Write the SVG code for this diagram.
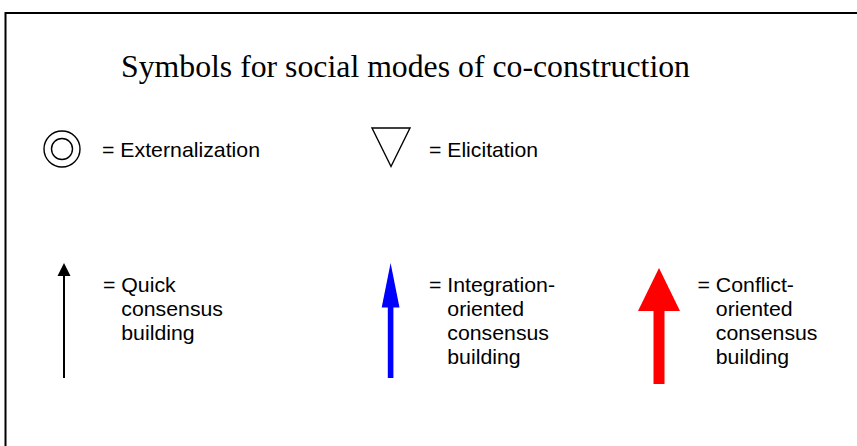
<svg xmlns="http://www.w3.org/2000/svg" width="857" height="446" viewBox="0 0 857 446">
<style>
.lbl{font-family:"Liberation Sans",Arial,sans-serif;font-size:21px;fill:#000}
.title{font-family:"Liberation Serif","Times New Roman",serif;font-size:32px;fill:#000}
.sym{fill:none;stroke:#000;stroke-width:1.4}
</style>
<rect width="857" height="446" fill="#fff"/>
<g id="frame"><path d="M5.5,446 V13 H857" fill="none" stroke="#000" stroke-width="2"/></g>
<g id="title"><text class="title" x="121" y="77" textLength="569" lengthAdjust="spacingAndGlyphs">Symbols for social modes of co-construction</text></g>
<g id="externalization">
<circle class="sym" cx="62" cy="149" r="18"/>
<circle class="sym" cx="62" cy="149" r="10.5"/>
<text class="lbl" x="102" y="157" textLength="158" lengthAdjust="spacingAndGlyphs">= Externalization</text>
</g>
<g id="elicitation">
<polygon class="sym" points="372,128 410,128 391,166.5"/>
<text class="lbl" x="429" y="157" textLength="109" lengthAdjust="spacingAndGlyphs">= Elicitation</text>
</g>
<g id="quick">
<line x1="64" y1="378" x2="64" y2="274" stroke="#000" stroke-width="2"/>
<polygon points="64,263 57.5,276 70.5,276" fill="#000"/>
<text class="lbl" x="103" y="292" textLength="72.7" lengthAdjust="spacingAndGlyphs">= Quick</text>
<text class="lbl" x="121.3" y="316" textLength="101.7" lengthAdjust="spacingAndGlyphs">consensus</text>
<text class="lbl" x="121.3" y="340" textLength="73.3" lengthAdjust="spacingAndGlyphs">building</text>
</g>
<g id="integration">
<rect x="387.8" y="305" width="5.6" height="73" fill="#0000ff"/>
<polygon points="390.6,263 381.7,307.5 399.5,307.5" fill="#0000ff"/>
<text class="lbl" x="429" y="292" textLength="126" lengthAdjust="spacingAndGlyphs">= Integration-</text>
<text class="lbl" x="447.3" y="316" textLength="76.9" lengthAdjust="spacingAndGlyphs">oriented</text>
<text class="lbl" x="447.3" y="340" textLength="101.7" lengthAdjust="spacingAndGlyphs">consensus</text>
<text class="lbl" x="447.3" y="364" textLength="73.3" lengthAdjust="spacingAndGlyphs">building</text>
</g>
<g id="conflict">
<rect x="653.5" y="309" width="11" height="75" fill="#ff0000"/>
<polygon points="659,268 638,311 680,311" fill="#ff0000"/>
<text class="lbl" x="697.5" y="292" textLength="96.4" lengthAdjust="spacingAndGlyphs">= Conflict-</text>
<text class="lbl" x="715.8" y="316" textLength="76.9" lengthAdjust="spacingAndGlyphs">oriented</text>
<text class="lbl" x="715.8" y="340" textLength="101.7" lengthAdjust="spacingAndGlyphs">consensus</text>
<text class="lbl" x="715.8" y="364" textLength="73.3" lengthAdjust="spacingAndGlyphs">building</text>
</g>
</svg>
